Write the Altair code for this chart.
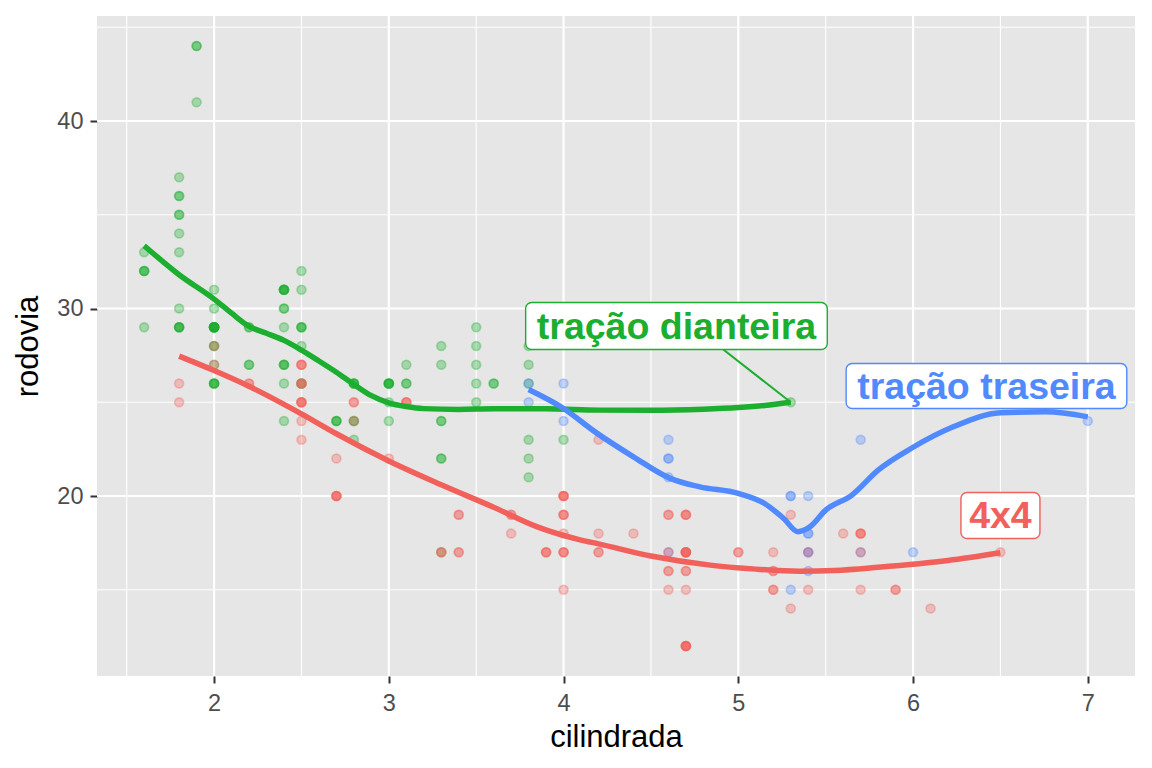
import altair as alt
import pandas as pd

# ---------------- data (mpg: cilindrada x rodovia) ----------------
# front-wheel drive ("f")
f_displ = [1.8, 1.8, 2.0, 2.0, 2.8, 2.8, 3.1,
           2.4, 2.4, 3.1, 3.5, 3.6,
           2.4, 3.0, 3.3, 3.3, 3.3, 3.3, 3.3, 3.8, 3.8, 3.8, 4.0,
           1.6, 1.6, 1.6, 1.6, 1.6, 1.8, 1.8, 1.8, 2.0,
           2.4, 2.4, 2.4, 2.4, 2.5, 2.5, 3.3, 2.0, 2.0, 2.0, 2.0, 2.7, 2.7, 2.7,
           2.4, 2.4, 2.5, 2.5, 3.5, 3.5, 3.0, 3.0, 3.5,
           3.1, 3.8, 3.8, 3.8, 5.3,
           2.2, 2.2, 2.4, 2.4, 3.0, 3.0, 3.5, 2.2, 2.2, 2.4, 2.4, 3.0, 3.0, 3.3,
           1.8, 1.8, 1.8, 1.8, 1.8,
           2.0, 2.0, 2.0, 2.0, 2.8, 1.9, 2.0, 2.0, 2.0, 2.0, 2.5, 2.5, 2.8, 2.8,
           1.9, 1.9, 2.0, 2.0, 2.5, 2.5, 1.8, 1.8, 2.0, 2.0, 2.8, 2.8, 3.6]
f_hwy = [29, 29, 31, 30, 26, 26, 27,
         27, 30, 26, 29, 26,
         24, 24, 22, 22, 24, 24, 17, 22, 21, 23, 23,
         33, 32, 32, 29, 32, 34, 36, 36, 29,
         26, 27, 30, 31, 26, 26, 28, 26, 29, 28, 27, 24, 24, 24,
         29, 27, 31, 32, 27, 26, 26, 25, 25,
         26, 26, 27, 28, 25,
         29, 27, 31, 31, 26, 26, 28, 27, 29, 31, 31, 26, 26, 27,
         30, 33, 35, 37, 35,
         29, 26, 29, 29, 24, 44, 29, 26, 29, 29, 29, 29, 23, 24,
         44, 41, 29, 26, 28, 29, 29, 29, 28, 29, 26, 26, 26]

# rear-wheel drive ("r")
r_displ = [5.3, 5.3, 5.3, 5.7, 6.0, 5.7, 5.7, 6.2, 6.2, 7.0,
           4.6, 5.4, 5.4, 3.8, 3.8, 4.0, 4.0, 4.6, 4.6, 4.6, 4.6, 5.4,
           5.4, 5.4, 5.4]
r_hwy = [20, 15, 20, 17, 17, 26, 23, 26, 25, 24,
         17, 17, 18, 26, 25, 26, 24, 21, 22, 23, 22, 20,
         17, 16, 18]

# four-wheel drive ("4")
q_displ = [1.8, 1.8, 2.0, 2.0, 2.8, 2.8, 3.1, 3.1, 2.8, 3.1, 4.2,
           5.3, 5.3, 5.7, 6.5,
           3.7, 3.7, 3.9, 3.9, 4.7, 4.7, 4.7, 5.2, 5.2,
           3.9, 4.7, 4.7, 4.7, 5.2, 5.7, 5.9,
           4.7, 4.7, 4.7, 4.7, 4.7, 4.7, 5.2, 5.2, 5.7, 5.9,
           4.0, 4.0, 4.0, 4.0, 4.6, 5.0, 4.2, 4.2, 4.6, 4.6, 4.6, 5.4, 5.4,
           3.0, 3.7, 4.0, 4.7, 4.7, 4.7, 5.7, 6.1,
           4.0, 4.2, 4.4, 4.6,
           4.0, 4.0, 4.6, 5.0,
           3.3, 3.3, 4.0, 5.6,
           2.5, 2.5, 2.5, 2.5, 2.5, 2.5, 2.2, 2.2, 2.5, 2.5, 2.5, 2.5, 2.5, 2.5,
           2.7, 2.7, 3.4, 3.4, 4.0, 4.7, 4.7, 5.7, 2.7, 2.7, 2.7, 3.4, 3.4, 4.0, 4.0]
q_hwy = [26, 25, 28, 27, 25, 25, 25, 25, 24, 25, 23,
         19, 14, 15, 17,
         19, 18, 17, 17, 19, 19, 12, 17, 15,
         17, 17, 12, 17, 16, 18, 15,
         16, 12, 17, 17, 16, 12, 15, 16, 17, 15,
         17, 19, 17, 19, 19, 17, 17, 17, 16, 16, 17, 15, 17,
         22, 19, 20, 17, 12, 19, 18, 14,
         15, 18, 18, 15,
         17, 19, 19, 17,
         17, 17, 20, 18,
         25, 24, 27, 25, 26, 23, 26, 26, 26, 26, 27, 25, 25, 27,
         20, 20, 19, 17, 20, 17, 15, 18, 20, 20, 22, 17, 19, 18, 20]

# smoothed curves
f_curve_x = [1.6, 1.8, 2.0, 2.1, 2.2, 2.3, 2.4, 2.5, 2.6, 2.7, 2.8, 2.9, 3.0,
             3.1, 3.2, 3.4, 3.6, 3.9, 4.2, 4.5, 4.8, 5.0, 5.15, 5.3]
f_curve_y = [33.35, 31.8, 30.5, 29.75, 29.05, 28.68, 28.3, 27.78, 27.2, 26.6,
             25.95, 25.35, 24.97, 24.77, 24.66, 24.62, 24.65, 24.65, 24.58,
             24.57, 24.63, 24.72, 24.83, 25.0]
q_curve_x = [1.8, 2.0, 2.2, 2.5, 2.7, 3.0, 3.3, 3.6, 3.85, 4.1, 4.2, 4.5, 4.85,
             5.1, 5.35, 5.55, 5.8, 6.2, 6.5]
q_curve_y = [27.46, 26.69, 25.85, 24.38, 23.32, 21.87, 20.6, 19.4, 18.35, 17.65,
             17.45, 16.8, 16.3, 16.1, 15.99, 16.03, 16.2, 16.56, 16.97]
r_curve_x = [3.8, 4.0, 4.18, 4.4, 4.61, 4.78, 5.0, 5.15, 5.26, 5.34, 5.41, 5.5,
             5.65, 5.8, 6.0, 6.23, 6.5, 6.76, 7.0]
r_curve_y = [25.68, 24.67, 23.42, 22.09, 20.94, 20.49, 20.14, 19.6, 18.8, 18.1,
             18.36, 19.25, 20.05, 21.38, 22.6, 23.69, 24.44, 24.49, 24.22]

# labels
label_drv = ["4", "f", "r"]
label_text = ["4x4", "tração dianteira", "tração traseira"]
label_x = [6.5, 4.646, 6.42]
label_y = [18.32, 28.35, 25.2]
box_x1 = [6.274, 3.783, 5.617]
box_x2 = [6.726, 5.509, 7.223]
box_y1 = [17.73, 27.81, 24.67]
box_y2 = [20.19, 30.32, 27.07]
seg = {"x": [4.914], "y": [27.81], "x2": [5.3], "y2": [25.0], "drv": ["f"]}

grid_major_x = [2, 3, 4, 5, 6, 7]
grid_minor_x = [1.5, 2.5, 3.5, 4.5, 5.5, 6.5]
grid_major_y = [20, 30, 40]
grid_minor_y = [15, 25, 35, 45]

drv_domain = ["4", "f", "r"]
drv_colors = ["#F2605B", "#1BAE2F", "#5189FF"]

# ---------------- tables ----------------
points = pd.DataFrame({
    "x": f_displ + r_displ + q_displ,
    "y": f_hwy + r_hwy + q_hwy,
    "drv": ["f"] * len(f_displ) + ["r"] * len(r_displ) + ["4"] * len(q_displ),
})
curves = pd.DataFrame({
    "x": q_curve_x + f_curve_x + r_curve_x,
    "y": q_curve_y + f_curve_y + r_curve_y,
    "drv": ["4"] * len(q_curve_x) + ["f"] * len(f_curve_x) + ["r"] * len(r_curve_x),
})
labels = pd.DataFrame({
    "x": label_x, "y": label_y, "text": label_text, "drv": label_drv,
    "bx1": box_x1, "bx2": box_x2, "by1": box_y1, "by2": box_y2,
})

FONT = "Liberation Sans"
xs = alt.Scale(domain=[1.33, 7.27], nice=False, zero=False)
ys = alt.Scale(domain=[10.4, 45.6], nice=False, zero=False)
cs = alt.Scale(domain=drv_domain, range=drv_colors)

xaxis = alt.Axis(values=grid_major_x, format="d", title="cilindrada", grid=False,
                 domain=False, tickSize=7, tickWidth=2, tickColor="#333333",
                 labelFont=FONT, labelFontSize=23.5, labelColor="#4D4D4D",
                 labelPadding=8, titleFont=FONT, titleFontSize=31,
                 titleFontWeight="normal", titleColor="#000000",
                 titleX=519, titleY=70, titleBaseline="alphabetic")
yaxis = alt.Axis(values=grid_major_y, format="d", title="rodovia", grid=False,
                 domain=False, tickSize=7, tickWidth=2, tickColor="#333333",
                 labelFont=FONT, labelFontSize=23.5, labelColor="#4D4D4D",
                 labelPadding=7, titleFont=FONT, titleFontSize=31,
                 titleFontWeight="normal", titleColor="#000000",
                 titleX=-60, titleY=330, titleAngle=270, titleAlign="center",
                 titleBaseline="alphabetic")


def X(field="x"):
    return alt.X(f"{field}:Q", scale=xs, axis=xaxis)


def Y(field="y"):
    return alt.Y(f"{field}:Q", scale=ys, axis=yaxis)


minor_v = alt.Chart(pd.DataFrame({"x": grid_minor_x})).mark_rule(
    color="white", strokeWidth=1.1).encode(x=X())
minor_h = alt.Chart(pd.DataFrame({"y": grid_minor_y})).mark_rule(
    color="white", strokeWidth=1.1).encode(y=Y())
major_v = alt.Chart(pd.DataFrame({"x": grid_major_x})).mark_rule(
    color="white", strokeWidth=2.2).encode(x=X())
major_h = alt.Chart(pd.DataFrame({"y": grid_major_y})).mark_rule(
    color="white", strokeWidth=2.2).encode(y=Y())

pts = alt.Chart(points).mark_circle(
    size=80, fillOpacity=0.32, strokeOpacity=0.32, strokeWidth=1.7
).encode(
    x=X(), y=Y(),
    fill=alt.Fill("drv:N", scale=cs, legend=None),
    stroke=alt.Stroke("drv:N", scale=cs, legend=None),
)

lines = alt.Chart(curves).mark_line(strokeWidth=5.5, interpolate="monotone").encode(
    x=X(), y=Y(), stroke=alt.Stroke("drv:N", scale=cs, legend=None),
    detail="drv:N",
)

segment = alt.Chart(pd.DataFrame(seg)).mark_rule(strokeWidth=2).encode(
    x=X(), y=Y(), x2="x2:Q", y2="y2:Q",
    stroke=alt.Stroke("drv:N", scale=cs, legend=None),
)

boxes = alt.Chart(labels).mark_rect(
    fill="white", strokeWidth=1.4, cornerRadius=6
).encode(
    x=X("bx1"), x2="bx2:Q", y=Y("by1"), y2="by2:Q",
    stroke=alt.Stroke("drv:N", scale=cs, legend=None),
)

texts = alt.Chart(labels).mark_text(
    font=FONT, fontWeight="bold", fontSize=37.5, align="center",
    baseline="alphabetic"
).encode(
    x=X(), y=Y(), text="text:N",
    fill=alt.Fill("drv:N", scale=cs, legend=None),
)

chart = alt.layer(
    minor_v, minor_h, major_v, major_h, pts, lines, segment, boxes, texts
).properties(
    width=1038, height=660,
    autosize=alt.AutoSizeParams(type="none"),
    padding={"left": 97, "top": 16, "right": 17, "bottom": 92},
    background="white",
).configure_view(fill="#E6E6E6", strokeWidth=0)

chart.save("out.html", embed_options={"renderer": "svg", "actions": False})
